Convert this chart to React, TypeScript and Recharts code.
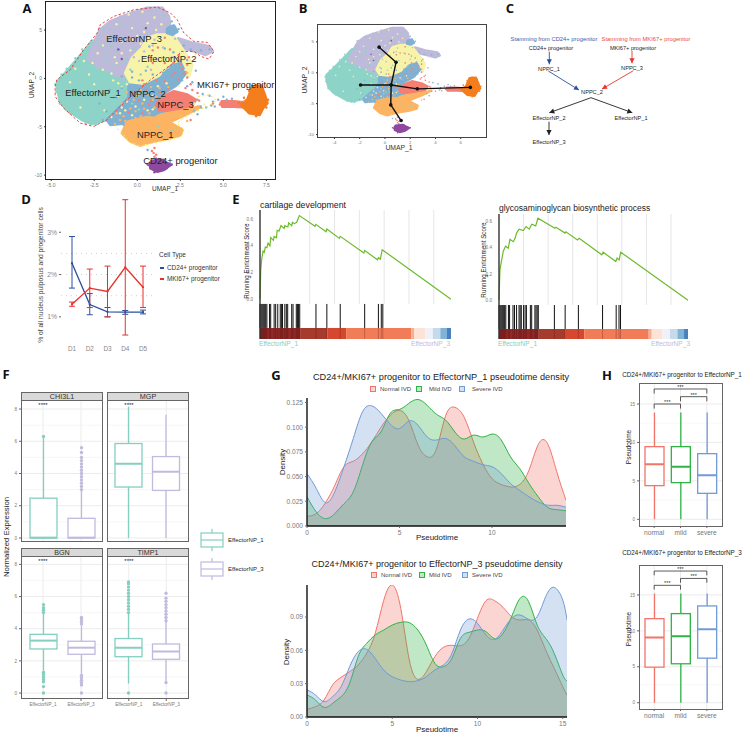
import React from "react";
import {
  ScatterChart, Scatter, XAxis, YAxis, ComposedChart, Line, LineChart, ErrorBar,
  AreaChart, Area, Bar, ReferenceLine, ReferenceArea,
} from "recharts";

// ---- UMAP clusters, outlines (x, y in UMAP units)
const teal = "#8dd3c7", lavender = "#bebada", yellow = "#f7f3a8", nppc2 = "#80b1d3";
const salmon = "#f47f72", peach = "#fdb462", orange = "#f47d1c", purple = "#8e4a9e";

const effector1 = [[-4.67,-.83],[-4.63,-.31],[-4.18,.55],[-3.6,1.76],[-3.02,2.97],[-2.63,3.83],[-2.15,4],[-1.56,2.97],[-.3,1.5],[-.1,-.5],[-.2,-2.2],[-.9,-3.6],[-1.76,-4.28],[-2.63,-4.69],[-3.21,-4.28],[-4.09,-3.24],[-4.48,-2.38]];
const effector3 = [[-2.88,1.93],[-2.53,3.66],[-2.15,5.03],[-1.56,5.9],[-.59,6.59],[.57,7.28],[1.45,7.28],[1.83,6.41],[1.93,5.03],[1.5,3.5],[.9,1.5],[-.2,.5],[-.9,.1],[-1.95,1.07],[-2.53,1.59]];
const effector3Tail = [[2.32,4.17],[3.2,3.66],[4.16,3.31],[4.36,2.79],[3.97,2.45],[3.39,2.79],[2.61,3.14]];
const effector2 = [[.57,4.17],[1.16,4.52],[2.03,4.52],[2.32,3.83],[2.9,2.28],[3.19,1.41],[3,.2],[2.13,1.07],[1.4,-.4],[.57,-1.1],[-.2,-1.1],[-.69,.55],[-.3,2.1],[.28,3.14]];
const nppc2Main = [[-.5,-.66],[.38,-.83],[1.35,.03],[1.93,1.24],[2.52,1.59],[2.81,.55],[2.32,-.66],[1.54,-1.52],[1.5,-2.55],[1.6,-3.76],[.57,-4.6],[-.59,-4.6],[-1.56,-4.79],[-1.75,-4.28],[-1.17,-3.24],[-.5,-2]];
const nppc2Small = [[1.74,5.2],[2.13,5.45],[2.32,4.86],[2.03,4.52],[1.74,4.7]];
const nppc3Main = [[1.54,-1.86],[2.13,-1.34],[2.9,-1.69],[3.39,-2.2],[3.1,-3.07],[2.13,-3.41],[1.25,-3.24],[1.16,-2.55]];
const nppc3Tail = [[4.85,-2.38],[5.62,-2.38],[6.4,-2.55],[6.3,-2.97],[5.62,-2.9],[4.94,-2.9]];
const nppc1Main = [[-.59,-4.5],[.57,-4],[1.74,-4.4],[2.61,-5.31],[2.52,-5.83],[1.93,-6.17],[.86,-6.52],[.18,-6.93],[-.4,-6.52],[-.88,-5.66]];
const nppc1Arm = [[1.35,-3.76],[2.4,-3.41],[3.68,-2.9],[3,-3.6],[1.74,-4.62],[.9,-4.2]];
const mki67Blob = [[6.4,-2.2],[6.69,-.83],[7.2,-.76],[7.4,-1.69],[7.55,-2.55],[7.3,-3.07],[7.1,-3.76],[6.52,-3.59],[6.03,-2.72]];
const cd24Blob = [[.77,-8.59],[1.35,-8.41],[1.93,-8.93],[1.54,-9.45],[1.16,-9.62],[.77,-9.28]];

const blobs: [number[][], string][] = [
  [effector1, teal], [effector3, lavender], [effector3Tail, lavender], [effector2, yellow],
  [nppc2Main, nppc2], [nppc2Small, nppc2], [nppc3Main, salmon], [nppc3Tail, salmon],
  [nppc1Main, peach], [nppc1Arm, peach], [mki67Blob, orange], [cd24Blob, purple],
];

const yellowSpecks = [[-.5,6.6],[.3,6.9],[1,6.3],[-1.2,5.6],[-.3,5.2],[.6,5.7],[1.4,5.6],[-1.7,4.3],[-.9,3.8],[0,4.4],[.2,3.6],[-.4,2.9],[-1.3,2.2],[-2.3,2.6],[-3.1,1.8],[-3.6,1],[-2.8,.4],[-2,.9],[-3.9,-.4],[-2.5,-.6],[-1.4,-.2],[-1.1,-1.8],[-3.3,-3],[-1.9,-3.3],[-.9,-3],[-.3,-3.8],[.4,-2.2],[.9,-3.2],[1.7,-.5],[2.4,-.8],[2.8,.9],[3.4,2.5],[3.3,-2.6],[3.9,-2.7],[.5,-6.9],[-.6,-2.4],[-.1,-2.9],[.6,-3.3],[-1,-3.6],[-1.5,-4],[-.7,-3.3],[0,-1.8],[.9,-1.8],[1.2,-.8],[-.9,-.9],[-1.1,-.5],[-1.5,.5],[-1.2,1.6],[-.9,2.6],[-.3,4],[.4,4.8],[1.1,5],[-2,3.4],[-2.6,1.6],[-.6,-.6]];
const tealSpecks = [[-.6,2],[-1.5,3.3],[-.2,3.1],[.6,1.2],[.2,.4],[1.1,2],[.8,-1.3],[.1,-3.2],[.6,-4],[-.3,-2.6],[1.5,6.5],[-.9,5.6],[-2,5.1],[2.5,1.8],[1.8,1.1],[.4,5.2],[1.2,-5],[2,-5.4],[-2.4,3.9],[-2.1,3.3],[-1.8,2.5],[-2.2,4.4],[-1.5,3.9],[-1.2,2.9],[-1.8,1.8],[-1.3,1.4],[-.7,1.6],[-.4,.9],[-3.2,3],[-3.6,2.1],[-4.1,1],[-4.4,.4],[-4.75,-.6],[-4.7,-1.4],[-4.5,-2.6],[-3.9,-3.6],[-3,-4.6],[-2.4,-4.8]];
const blueSpecks = [[.7,3.3],[1.6,3.1],[2.1,2.7],[2.7,3.4],[3.1,3],[3.7,2.9],[4.2,3],[2.9,1.9],[3.4,.8],[-.9,.2],[-1.6,-1.2],[-2.2,-2.6],[-1.4,-4.4],[-.8,-4.8],[3.5,-2.2],[3.8,-1.6],[4.2,-1.8],[4.4,-2.4],[4.7,-2.2],[5,-1.9],[3.7,-3],[3.3,-3.4],[.6,-7.4],[2.6,-.2],[-.3,.1],[.1,-.2],[.9,.4],[1.5,.6],[2,.9],[2.4,.3],[2.1,-.6],[-.9,-1],[-1.2,-2],[-1.8,-3.4],[-2,-4.3],[-.3,.7],[.5,.8],[3.2,-.4],[2.9,-.8],[3.5,-3.7],[4,-3],[4.3,-2.8],[4.5,-2.9],[5.2,-2.2],[5.5,-2.1],[2,5.9],[2.4,5.1]];
const salmonSpecks = [[1.6,4.2],[.9,2.9],[1.6,1.6],[2.5,1.5],[2.9,.1],[2.4,-.1],[3.1,-.6],[2,.3],[1.1,-.2],[.4,-.6],[.1,-2.3],[.7,-2.7],[3.6,-2.3],[4.4,-2.6],[4.8,-2.7],[1,-7.2],[.95,-7.7],[1,-8.1],[.85,-7.5],[1.1,-7.9],[6.2,-2.4],[3.1,-4.3],[-.3,-1.5],[.5,-1.2],[1.3,-1.4],[.8,-2.3],[.3,-3.6],[-.5,-3.5],[1.1,-2.8],[1.6,-.3],[2.2,.6],[2.7,.5],[2.6,1],[2.1,1.6],[2.9,1.4],[3,2.2],[2.4,2.4],[1.9,3],[1.2,3.2],[.9,1.6],[.3,-.2],[3.2,-1.2],[3.5,-1.5],[2.8,-1],[1.8,-1.1]];
const peachSpecks = [[-.9,-2.6],[-.1,-3.4],[.4,-3.1],[.9,-2.2],[1.3,-1],[1.8,-.9],[-1.3,-4.7],[1.9,-3.7],[2.6,-3.8],[3.1,-3.3],[3.5,-2.9],[2.9,.6],[.1,-1.6],[2.9,-4.4],[-.3,-4.3],[-.8,-3.9],[-.4,-3.1],[.2,-3.9],[.7,-3.6],[1,-3],[.3,-2.6],[-.2,-2.2],[.6,-1.7],[1.1,-1.9],[-.6,-1.4],[.9,-4.1],[-.1,-4.1],[1.2,-4.1],[.5,-4.5],[1.5,-4.3],[-1,-4.3],[-1.2,-3.6],[-.7,-4.4],[.2,-1.2],[.8,-.9]];
const lavenderSpecks = [[-.8,-.2],[.1,1.8],[1,4],[1.5,3.2],[.8,.9],[2,2.2],[-1.1,1],[3.4,3.2],[-2.3,1.1],[-3,.9],[-2.2,5.2],[-1.7,5.7],[-1,6.4],[-.3,6.9],[.5,7.2],[1.2,7.35],[1.7,6.8],[1.85,5.8],[-2.7,2.8],[-2.4,1.1],[-1.3,.2],[-.2,2.2],[.4,2.8],[.9,3.4],[2.9,3.6],[3.6,3.5],[4.3,3.1],[2.2,4.1]];
const orangeSpecks = [[6.2,-2],[6.5,-1.3],[6.9,-.7],[7.3,-1.1],[7.6,-2.2],[7.5,-3],[6.9,-3.9],[6.3,-3.2],[5.9,-2.5]];
const purpleSpecks = [[-1.1,3],[-.9,2],[.5,5.2],[.6,-8.9],[1.1,-8.3],[.7,-9],[1,-9.7],[1.7,-9.3],[2,-8.9],[1.5,-8.4],[.9,-8.5]];

const specks: [number[][], string][] = [
  [yellowSpecks, yellow], [tealSpecks, teal], [blueSpecks, nppc2], [salmonSpecks, salmon],
  [peachSpecks, peach], [lavenderSpecks, lavender], [orangeSpecks, orange], [purpleSpecks, purple],
];

const redOutline = [[-4.77,-.83],[-4.67,-.14],[-3.89,.9],[-3.11,2.97],[-2.33,4.69],[-2.15,5.55],[-1.37,6.41],[-.2,7.1],[1.16,7.38],[1.93,6.76],[2.32,6.07],[2.71,4.69],[3.29,3.83],[4.07,3.72],[4.46,2.79],[4.17,2],[3.68,2.28],[3.29,2.79],[2.52,2.79],[2.22,1.76],[.77,-.14],[-.59,-2.2],[-1.76,-4.28],[-2.53,-4.97],[-3.31,-4.62],[-4.28,-3.07],[-4.77,-1.86],[-4.77,-.83]];
const yellowOutline = [[-1.17,-5.17],[-.83,-5.66],[-.49,-6.55],[.18,-6.97],[1.16,-6.62],[2.52,-6.07],[2.71,-5.31],[2.32,-4.62],[3,-3.7],[4.1,-2.9],[4.6,-2.3],[4.2,-1.7],[3.4,-1.9]];

const clusterNames = ["EffectorNP_3","EffectorNP_2","EffectorNP_1","NPPC_2","NPPC_3","NPPC_1","CD24+ progenitor","MKI67+ progenitor"];
const clusterX = [-.18,1.83,-2.57,.59,2.22,1.04,2.51,5.72];
const clusterY = [4.17,2.07,-1.45,-1.59,-2.72,-5.83,-8.45,-.62];

const trajectoryTrunk = [[-.46,4.15],[.88,1.7],[.49,-1.98],[.46,-5.2],[1.28,-7.74]];
const trajectoryCross = [[-1.93,-1.98],[.49,-1.98],[2.56,-2.6],[6.76,-2.37]];

// ---- panel C flow diagram, in diagram units
const flowNames = ["NPPC_1","NPPC_3","NPPC_2","EffectorNP_2","EffectorNP_1","EffectorNP_3","CD24+ progenitor","MKI67+ progenitor"];
const flowX = [549,632,592,549,631,549,551,633];
const flowY = [69,68,92,117.5,118,141.7,48,48];
const flowEdges: [number[], number[], string][] = [
  [[549.3,51.7],[549.3,64.3],"#2a4f9e"], [[632,51],[632,63.3],"#e8362c"],
  [[548.3,71],[579,90],"#2a4f9e"], [[633.3,70.7],[602,89],"#e8362c"],
  [[591,97.7],[549.3,112.7],"#222"], [[591,97.7],[632.3,112.7],"#222"], [[549,121.7],[549,135],"#222"],
];

// ---- panel D
const days = ["D1","D2","D3","D4","D5"];
const cd24Mean = [2.27,1.29,1.12,1.11,1.11];
const cd24Low = [1.68,1.05,1.0,1.06,1.07];
const cd24High = [2.9,1.55,1.22,1.15,1.16];
const mkiMean = [1.3,1.68,1.6,2.17,1.7];
const mkiLow = [1.25,1.22,1.0,.57,1.22];
const mkiHigh = [1.35,2.13,2.2,3.77,2.2];
const dayRows = days.map((d, i) => ({
  day: d, cd24: cd24Mean[i], cd24Err: [cd24Mean[i] - cd24Low[i], cd24High[i] - cd24Mean[i]],
  mki: mkiMean[i], mkiErr: [mkiMean[i] - mkiLow[i], mkiHigh[i] - mkiMean[i]],
}));

// ---- panel E
const gseaLeftX = [0,.4,1,1.6,2.2,2.8,3.6,4.2,5.2,5.6,7,7.4,8.6,9,10,11,12.6,13,14.6,15,16.6,17,18,19.2,20.6,28.8,29.2,34.6,35,41.6,42,54.4,54.8,61.5,62,63,64,100];
const gseaLeftY = [0,.22,.31,.36,.35,.39,.385,.42,.4,.46,.44,.47,.46,.515,.51,.55,.53,.55,.54,.57,.55,.575,.565,.575,.625,.545,.56,.505,.525,.455,.47,.345,.365,.295,.31,.3,.37,0];
const gseaRightX = [0,.5,1.4,2.3,3.5,4.9,5.8,7.6,8.5,9.3,10.6,12.9,14.3,16,17.3,19.4,20.6,29.6,30.1,35,35.4,41.5,42.4,54.4,55.1,61.8,62.5,63.6,64.4,100];
const gseaRightY = [0,.23,.306,.375,.41,.395,.463,.445,.47,.51,.54,.53,.56,.54,.577,.565,.623,.547,.555,.51,.52,.458,.47,.345,.365,.294,.32,.306,.365,0];
const gseaHits = [0,.5,1,1.5,2,2.5,3,3.6,5,5.6,7.4,8.2,9.3,10.6,11.2,11.8,13,13.8,14.5,16.6,17.3,19,19.6,20.2,20.8,29.3,35,42,54.8,62,63.5,64.3];
const gseaBreaksLeft = [26,39,52,65,78,91];
const gseaBreaksRight = [13,26,39,52,65,78,91];
const stripStart = [0,21,35.3,45.1,79.2,80.8,86.5,90.5,94.4,97.9];
const stripEnd = [21,35.3,45.1,79.2,80.8,86.5,90.5,94.4,97.9,100];
const stripColor = ["#8f2a28","#a63b2d","#d5482f","#f07c58","#f8ad90","#fde2d6","#eef1f9","#c5dbea","#81b3d8","#4a80bb"];

// ---- panel F + H box statistics
type Box = { name: string; lo: number; q1: number; med: number; q3: number; hi: number; out: number[]; range: number[] };
const makeBoxes = (names: string[], lo: number[], q1: number[], med: number[], q3: number[], hi: number[], out: number[][]): Box[] =>
  names.map((name, i) => ({
    name, lo: lo[i], q1: q1[i], med: med[i], q3: q3[i], hi: hi[i], out: out[i],
    range: [Math.min(lo[i], ...out[i]), Math.max(hi[i], ...out[i])],
  }));

const npNames = ["EffectorNP_1","EffectorNP_3"];
const npColors = ["#84cfbf","#c0bade"];
const chi3l1 = makeBoxes(npNames, [0,0], [0,0], [.02,.02], [2.47,1.22], [6.2,3], [[6.3],[3,3.2,3.4,3.6,3.8,4,4.2,4.4,4.6,4.8,5,5.3,5.6]]);
const mgp = makeBoxes(npNames, [0,0], [3.16,2.95], [4.6,4.11], [5.86,5.05], [8.14,7.64], [[],[]]);
const bgn = makeBoxes(npNames, [1.4,1.2], [2.74,2.41], [3.26,2.82], [3.65,3.22], [5,4.2],
  [[0,.4,.7,.85,1,1.15,1.3,5,5.15,5.3,5.5],[0,.5,.65,.8,.95,1.1,4.3,4.45,4.6,4.7]]);
const timp1 = makeBoxes(npNames, [.6,.7], [2.26,2.1], [2.82,2.58], [3.39,3.05], [5,4.5],
  [[0,5,5.2,5.4,5.6,5.8,6,6.2,6.4,6.6,6.8,6.9],[0,.65,4.5,4.7,4.9,5.1,5.3,5.5,5.7,5.9,6.2]]);

const severityNames = ["normal","mild","severe"];
const severityColors = ["#f2756b","#2fb344","#719ad8"];
const pseudoOne = makeBoxes(severityNames, [0,0,0], [4.38,4.77,3.38], [7.15,6.85,5.72], [9.45,9.45,8.54], [13.9,13.9,13.9], [[],[],[]]);
const pseudoThree = makeBoxes(severityNames, [0,0,0], [4.95,5.42,6.2], [9.07,9.26,10.23], [11.7,12.4,13.47], [15.2,15.2,15.2], [[],[],[]]);
const bracketsOne: [string, string, number][] = [["normal","mild",15],["mild","severe",15.95],["normal","severe",16.95]];
const bracketsThree: [string, string, number][] = [["normal","mild",16.34],["mild","severe",17.3],["normal","severe",18.33]];

// ---- panel G densities
const timeTop = [0,.5,1,1.5,2,2.5,3,3.5,4,4.5,5,5.5,6,6.5,7,7.5,8,8.5,9,9.5,10,10.5,11,11.5,12,12.5,13,13.5,14];
const normalTop = [.0098,.0125,.0236,.041,.06,.0655,.073,.085,.1,.112,.117,.107,.082,.07,.078,.112,.12,.11,.085,.063,.048,.042,.0395,.042,.0565,.0825,.0835,.055,.026];
const mildTop = [.0295,.0142,.0074,.0125,.0226,.0345,.0615,.085,.0953,.114,.118,.124,.128,.122,.113,.107,.095,.088,.092,.09,.093,.087,.07,.058,.043,.0295,.019,.0165,.0155];
const severeTop = [.053,.038,.0236,.0345,.06,.0885,.1155,.1216,.114,.103,.0986,.106,.102,.09,.087,.0885,.081,.07,.0655,.062,.06,.053,.043,.036,.0295,.0243,.021,.021,.019];
const timeBottom = [0,.5,1,1.5,2,2.5,3,3.5,4,4.5,5,5.5,6,6.5,7,7.5,8,8.5,9,9.5,10,10.5,11,11.5,12,12.5,13,13.5,14,14.5,15,15.25];
const normalBottom = [.0069,.0093,.0153,.0288,.0357,.0408,.0468,.0573,.0753,.105,.1188,.0978,.0513,.0339,.0408,.0543,.0627,.0645,.0642,.0708,.0888,.1047,.1047,.0987,.0903,.0873,.0873,.0783,.0603,.0438,.0273,.0195];
const mildBottom = [.0198,.0153,.0087,.0123,.0183,.0303,.0543,.0663,.0738,.0783,.0828,.0852,.0849,.0783,.0648,.0483,.0453,.0528,.0708,.0762,.0783,.0768,.0705,.0753,.0903,.1068,.1038,.0828,.0708,.0573,.0378,.0327];
const severeBottom = [.0243,.0198,.0138,.0183,.0273,.0453,.0588,.0609,.0528,.0423,.0363,.0333,.0318,.0327,.0363,.0423,.0468,.0573,.0783,.0882,.0843,.0738,.0699,.0783,.0888,.0918,.0879,.0903,.1083,.1167,.1053,.0873];
const ivdNames = ["Normal IVD","Mild IVD","Severe IVD"];

// ---- helpers
const pts = (a: number[][]) => a.map(([x, y]) => ({ x, y }));
const noMark = () => <g />;
const GRAY = "#777";

function T({ x, y, size = 7, color = "#222", rotate = 0, anchor = "center", weight = 400, font, children }: any) {
  const tx = anchor === "center" ? "-50%" : anchor === "end" ? "-100%" : "0";
  return (
    <div style={{
      position: "absolute", left: x, top: y, fontSize: size, color, fontWeight: weight, whiteSpace: "nowrap",
      lineHeight: 1, fontFamily: font, transform: `translate(${tx},-50%) rotate(${rotate}deg)`,
    }}>{children}</div>
  );
}

function Frame({ x, y, w, h, color = "#555", width = 1 }: any) {
  return <div style={{ position: "absolute", left: x, top: y, width: w, height: h, border: `${width}px solid ${color}`, boxSizing: "border-box", pointerEvents: "none" }} />;
}

function Place({ x, y, children }: any) {
  return <div style={{ position: "absolute", left: x, top: y }}>{children}</div>;
}

function Umap({ w, h, yWidth, xHeight, top, dotR, grow, xTicks, fmt, fontSize, children }: any) {
  const dot = (color: string) => (p: any) => <circle cx={p.cx} cy={p.cy} r={dotR} fill={color} />;
  return (
    <ScatterChart width={w} height={h} margin={{ top, right: 0, bottom: 0, left: 0 }}>
      <XAxis type="number" dataKey="x" domain={[-5.3, 8]} ticks={xTicks} tickFormatter={fmt} allowDataOverflow height={xHeight}
        axisLine={false} tickSize={2} tickLine={{ stroke: "#333" }} tick={{ fontSize, fill: GRAY }} />
      <YAxis type="number" dataKey="y" domain={[-10.4, 7.9]} ticks={[-10, -5, 0, 5]} allowDataOverflow width={yWidth}
        axisLine={false} tickSize={2} tickLine={{ stroke: "#333" }} tick={{ fontSize, fill: GRAY }} />
      {blobs.map(([poly, color], i) => (
        <Scatter key={"b" + i} data={pts([...poly, poly[0]])} shape={noMark} isAnimationActive={false}
          line={{ fill: color, stroke: color, strokeWidth: grow, strokeLinejoin: "round" }} />
      ))}
      {specks.map(([list, color], i) => (
        <Scatter key={"s" + i} data={pts(list)} shape={dot(color)} isAnimationActive={false} />
      ))}
      {children}
    </ScatterChart>
  );
}

function FlowDiagram() {
  const label = (p: any) => (
    <text x={p.cx} y={p.cy} textAnchor="middle" dominantBaseline="central" fontSize={5.6} fill="#222">{p.payload.name}</text>
  );
  const arrowHead = (color: string, angle: number) => (p: any) =>
    p.payload.tip ? <polygon points="0,0 -5,-2.6 -5,2.6" fill={color} transform={`translate(${p.cx},${p.cy}) rotate(${angle})`} /> : <g />;
  return (
    <ScatterChart width={240} height={130} margin={{ top: 0, right: 0, bottom: 0, left: 0 }}>
      <XAxis type="number" dataKey="x" domain={[500, 740]} hide />
      <YAxis type="number" dataKey="y" domain={[25, 155]} reversed hide />
      {flowEdges.map(([a, b, color], i) => {
        const angle = (Math.atan2(b[1] - a[1], b[0] - a[0]) * 180) / Math.PI;
        return (
          <Scatter key={i} data={[{ x: a[0], y: a[1] }, { x: b[0], y: b[1], tip: true }]} shape={arrowHead(color, angle)}
            line={{ stroke: color, strokeWidth: 0.9 }} isAnimationActive={false} />
        );
      })}
      <Scatter data={flowNames.map((name, i) => ({ name, x: flowX[i], y: flowY[i] }))} shape={label} isAnimationActive={false} />
    </ScatterChart>
  );
}

function Gsea({ xs, ys, w, h, domain, rugTop, rugBottom, breaks }: any) {
  const rows = xs.map((x: number, i: number) => ({ x, y: ys[i] }));
  return (
    <ComposedChart width={w} height={h} data={rows} margin={{ top: 0, right: 0, bottom: 0, left: 0 }}>
      <XAxis type="number" dataKey="x" domain={[0, 100]} hide />
      <YAxis type="number" domain={domain} ticks={[0, .2, .4, .6]} tickFormatter={(v: number) => v.toFixed(1)} allowDataOverflow width={16}
        axisLine={{ stroke: "#333", strokeWidth: 1.4 }} tickLine={false} tickMargin={1} tick={{ fontSize: 4.6, fill: GRAY }} />
      {breaks.map((b: number) => (
        <ReferenceLine key={b} segment={[{ x: b, y: rugTop }, { x: b, y: domain[1] }]} stroke="#e6e6e6" strokeWidth={1} />
      ))}
      {stripColor.map((c, i) => (
        <ReferenceArea key={c} x1={stripStart[i]} x2={stripEnd[i]} y1={domain[0]} y2={rugBottom} fill={c} fillOpacity={1} stroke="none" />
      ))}
      {gseaHits.map((b) => (
        <ReferenceLine key={b} segment={[{ x: b, y: rugBottom }, { x: b, y: rugTop }]} stroke="#111" strokeWidth={1} />
      ))}
      {gseaHits.map((b) => (
        <ReferenceLine key={"s" + b} segment={[{ x: b, y: domain[0] }, { x: b, y: rugBottom }]} stroke="#400" strokeOpacity={0.25} strokeWidth={1} />
      ))}
      <Line type="linear" dataKey="y" stroke="#6dbb2c" strokeWidth={1.2} dot={false} isAnimationActive={false} />
    </ComposedChart>
  );
}

function boxShape(names: string[], colors: string[], outlierR: number, lineW: number, medW: number) {
  return (p: any) => {
    const { x, y, width, height, payload } = p;
    const color = colors[names.indexOf(payload.name)];
    const [rLo, rHi] = payload.range;
    const top = Math.min(y, y + height);
    const span = Math.abs(height);
    const py = (v: number) => top + ((rHi - v) / (rHi - rLo)) * span;
    const cx = x + width / 2;
    return (
      <g>
        <line x1={cx} x2={cx} y1={py(payload.hi)} y2={py(payload.lo)} stroke={color} strokeWidth={lineW} />
        <rect x={x} y={py(payload.q3)} width={width} height={py(payload.q1) - py(payload.q3)} fill="#fff" stroke={color} strokeWidth={lineW} />
        <line x1={x} x2={x + width} y1={py(payload.med)} y2={py(payload.med)} stroke={color} strokeWidth={medW} />
        {payload.out.map((v: number, i: number) => <circle key={i} cx={cx} cy={py(v)} r={outlierR} fill={color} />)}
      </g>
    );
  };
}

const exprMajor = [0, 2, 4, 6, 8];
const exprMinor = [1, 3, 5, 7];

function Facet({ data, domain, w, h, yWidth, xHeight }: any) {
  return (
    <ComposedChart width={w} height={h} data={data} margin={{ top: 0, right: 0, bottom: 0, left: 0 }} barCategoryGap={0}>
      <XAxis dataKey="name" type="category" padding={{ left: 3, right: 3 }} hide={!xHeight} height={xHeight || 0}
        axisLine={false} tickSize={2} tick={{ fontSize: 4.6, fill: GRAY }} interval={0} />
      <YAxis type="number" domain={domain} ticks={exprMajor} allowDataOverflow hide={!yWidth} width={yWidth || 0}
        axisLine={false} tickSize={2} tick={{ fontSize: 4.6, fill: GRAY }} />
      {exprMinor.map((v) => <ReferenceLine key={v} y={v} stroke="#f2f2f2" strokeWidth={0.7} zIndex={-100} />)}
      {exprMajor.map((v) => <ReferenceLine key={v} y={v} stroke="#ececec" strokeWidth={1} zIndex={-100} />)}
      {npNames.map((n) => <ReferenceLine key={n} x={n} stroke="#ececec" strokeWidth={1} zIndex={-100} />)}
      <Bar dataKey="range" barSize={27} shape={boxShape(npNames, npColors, 1.7, 1.3, 2)} isAnimationActive={false} />
    </ComposedChart>
  );
}

function Pseudo({ data, domain, h, brackets, tip }: any) {
  return (
    <ComposedChart width={100} height={h} data={data} margin={{ top: 0, right: 0, bottom: 0, left: 0 }}>
      <XAxis dataKey="name" type="category" padding={{ left: 2, right: 2 }} height={14} axisLine={false} tickSize={2}
        tick={{ fontSize: 6.6, fill: GRAY }} interval={0} />
      <YAxis type="number" domain={domain} ticks={[0, 5, 10, 15]} allowDataOverflow width={17} axisLine={false} tickSize={2}
        tick={{ fontSize: 4.6, fill: GRAY }} />
      {[2.5, 7.5, 12.5].map((v) => <ReferenceLine key={v} y={v} stroke="#f3f3f3" strokeWidth={0.7} zIndex={-100} />)}
      {[0, 5, 10, 15].map((v) => <ReferenceLine key={v} y={v} stroke="#ebebeb" strokeWidth={1} zIndex={-100} />)}
      {severityNames.map((n) => <ReferenceLine key={n} x={n} stroke="#ebebeb" strokeWidth={1} zIndex={-100} />)}
      <Bar dataKey="range" barSize={19} shape={boxShape(severityNames, severityColors, 1, 1.3, 2)} isAnimationActive={false} />
      {brackets.map(([a, b, y]: [string, string, number]) => (
        <React.Fragment key={a + b}>
          <ReferenceLine segment={[{ x: a, y }, { x: b, y }]} stroke="#333" strokeWidth={0.8}
            label={{ value: "***", position: "top", fontSize: 5.5, fill: "#333", offset: 0 }} />
          <ReferenceLine segment={[{ x: a, y }, { x: a, y: y - tip }]} stroke="#333" strokeWidth={0.8} />
          <ReferenceLine segment={[{ x: b, y }, { x: b, y: y - tip }]} stroke="#333" strokeWidth={0.8} />
        </React.Fragment>
      ))}
    </ComposedChart>
  );
}

function Density({ xs, a, b, c, w, h, xMax, yMax, xTicks, yTicks, yFmt }: any) {
  const rows = xs.map((x: number, i: number) => ({ x, normal: a[i], mild: b[i], severe: c[i] }));
  const axisLine = { stroke: "#111", strokeWidth: 1.4 };
  return (
    <AreaChart width={w} height={h} data={rows} margin={{ top: 0, right: 0, bottom: 0, left: 0 }}>
      <XAxis type="number" dataKey="x" domain={[0, xMax]} ticks={xTicks} allowDataOverflow height={15} axisLine={axisLine}
        tickSize={2} tick={{ fontSize: 6.6, fill: GRAY }} />
      <YAxis type="number" domain={[0, yMax]} ticks={yTicks} tickFormatter={yFmt} allowDataOverflow width={30} axisLine={axisLine}
        tickSize={2} tick={{ fontSize: 6.6, fill: GRAY }} />
      {["normal", "mild", "severe"].map((k, i) => (
        <Area key={k} type="natural" dataKey={k} stroke={severityColors[i]} strokeWidth={1} fill={severityColors[i]} fillOpacity={0.3}
          dot={false} isAnimationActive={false} />
      ))}
    </AreaChart>
  );
}

function IvdLegend({ y, sx, tx }: any) {
  return (
    <>
      {ivdNames.map((n, i) => (
        <React.Fragment key={n}>
          <div style={{
            position: "absolute", left: sx[i] - 3, top: y - 3, width: 6, height: 6, boxSizing: "border-box",
            border: `1px solid ${severityColors[i]}`, background: severityColors[i] + "4d",
          }} />
          <T x={tx[i]} y={y} size={6} anchor="left" color="#444">{n}</T>
        </React.Fragment>
      ))}
    </>
  );
}

function KeyBox({ x, y, color }: any) {
  return (
    <svg style={{ position: "absolute", left: x, top: y }} width={24} height={22}>
      <line x1={12} x2={12} y1={0} y2={22} stroke={color} strokeWidth={1.2} />
      <rect x={1} y={4} width={22} height={14} fill="#fff" stroke={color} strokeWidth={1.2} />
      <line x1={1} x2={23} y1={11} y2={11} stroke={color} strokeWidth={1.2} />
    </svg>
  );
}

const letterFont = "'Open Sans'";

export default function App() {
  return (
    <div style={{ position: "absolute", left: 0, top: 0, width: 747, height: 734, background: "#fff", overflow: "hidden", fontFamily: "'Liberation Sans'" }}>
      {/* A */}
      <Place x={14} y={0}>
        <Umap w={261} h={197} yWidth={32} xHeight={18} top={2} dotR={1.2} grow={3} xTicks={[-5, -2.5, 0, 2.5, 5, 7.5]} fmt={(v: number) => v.toFixed(1)} fontSize={5}>
          <Scatter data={pts(redOutline)} shape={noMark} isAnimationActive={false} line={{ stroke: "#e8352b", strokeWidth: 0.9, strokeDasharray: "2.5 2", fill: "none" }} />
          <Scatter data={pts(yellowOutline)} shape={noMark} isAnimationActive={false} line={{ stroke: "#efe64a", strokeWidth: 0.9, strokeDasharray: "2.5 2", fill: "none" }} />
          <Scatter
            data={clusterNames.map((name, i) => ({ name, x: clusterX[i], y: clusterY[i] }))}
            isAnimationActive={false}
            shape={(p: any) => <text x={p.cx} y={p.cy} textAnchor="middle" dominantBaseline="central" fontSize={9.4} fill="#222">{p.payload.name}</text>}
          />
        </Umap>
      </Place>
      <Frame x={45} y={1} w={231} h={179} color="#222" width={1.5} />
      <T x={165} y={189} size={6.5} color="#333">UMAP_1</T>
      <T x={32} y={85} size={6.5} rotate={-90} color="#333">UMAP_2</T>

      {/* B */}
      <Place x={298} y={22}>
        <Umap w={188} h={129} yWidth={20} xHeight={14} top={2} dotR={0.8} grow={2} xTicks={[-4, -2, 0, 2, 4, 6]} fontSize={4.4}>
          <Scatter data={pts(trajectoryTrunk)} isAnimationActive={false} line={{ stroke: "#111", strokeWidth: 1.4 }}
            shape={(p: any) => <circle cx={p.cx} cy={p.cy} r={1.8} fill="#111" />} />
          <Scatter data={pts(trajectoryCross)} isAnimationActive={false} line={{ stroke: "#111", strokeWidth: 1.4 }}
            shape={(p: any) => <circle cx={p.cx} cy={p.cy} r={1.8} fill="#111" />} />
        </Umap>
      </Place>
      <Frame x={317} y={24} w={170} h={114} color="#444" width={1.5} />
      <T x={399} y={148} size={6.8} color="#333">UMAP_1</T>
      <T x={305} y={80} size={6.8} rotate={-90} color="#333">UMAP_2</T>

      {/* C */}
      <Place x={500} y={25}><FlowDiagram /></Place>
      <T x={554} y={40} size={5.8} color="#3d5aa8">Stamming from CD24+ progenitor</T>
      <T x={646} y={40} size={5.8} color="#ea4a3c">Stamming from MKI67+ progenitor</T>

      {/* D */}
      <Place x={36} y={198}>
        <LineChart width={118} height={156} data={dayRows} margin={{ top: 0, right: 0, bottom: 0, left: 0 }}>
          <XAxis dataKey="day" padding={{ left: 11, right: 11 }} height={16} axisLine={false} tickLine={false} tick={{ fontSize: 6.4, fill: "#888" }} interval={0} />
          <YAxis type="number" domain={[.5, 3.81]} ticks={[1, 2, 3]} tickFormatter={(v: number) => v + "%"} allowDataOverflow width={25}
            axisLine={false} tickSize={2} tick={{ fontSize: 6.8, fill: "#888" }} />
          {[1.5, 2, 2.5].map((v) => <ReferenceLine key={v} y={v} stroke="#cfcfcf" strokeWidth={1} strokeDasharray="1 4" />)}
          <Line dataKey="cd24" type="linear" stroke="#2a4f9e" strokeWidth={1.3} dot={{ r: 1.1, fill: "#2a4f9e", stroke: "none" }} isAnimationActive={false}>
            <ErrorBar dataKey="cd24Err" width={3} strokeWidth={1} stroke="#2a4f9e" direction="y" isAnimationActive={false} />
          </Line>
          <Line dataKey="mki" type="linear" stroke="#e8302a" strokeWidth={1.3} dot={{ r: 1.1, fill: "#e8302a", stroke: "none" }} isAnimationActive={false}>
            <ErrorBar dataKey="mkiErr" width={3} strokeWidth={1} stroke="#e8302a" direction="y" isAnimationActive={false} />
          </Line>
        </LineChart>
      </Place>
      <T x={41} y={275} size={6.7} rotate={-90} color="#444">% of all nucleus pulposus and progenitor cells</T>
      <T x={159} y={255} size={6.5} anchor="left" color="#333">Cell Type</T>
      <div style={{ position: "absolute", left: 160, top: 267, width: 4, height: 1.5, background: "#2a4f9e" }} />
      <T x={167} y={267.7} size={6.4} anchor="left" color="#333">CD24+ progenitor</T>
      <div style={{ position: "absolute", left: 160, top: 278, width: 4, height: 1.5, background: "#e8302a" }} />
      <T x={167} y={278.5} size={6.4} anchor="left" color="#333">MKI67+ progenitor</T>

      {/* E */}
      <Place x={244} y={210}>
        <Gsea xs={gseaLeftX} ys={gseaLeftY} w={207} h={129} domain={[-.297, .667]} rugTop={-.035} rugBottom={-.2145} breaks={gseaBreaksLeft} />
      </Place>
      <Place x={483} y={214}>
        <Gsea xs={gseaRightX} ys={gseaRightY} w={205} h={125} domain={[-.294, .655]} rugTop={-.036} rugBottom={-.218} breaks={gseaBreaksRight} />
      </Place>
      <T x={260} y={204.5} size={8.8} anchor="left">cartilage development</T>
      <T x={499} y={207.5} size={8.5} anchor="left">glycosaminoglycan biosynthetic process</T>
      <T x={247} y={261} size={6.3} rotate={-90}>Running Enrichment Score</T>
      <T x={484} y={260} size={6.3} rotate={-90}>Running Enrichment Score</T>
      <T x={259} y={344} size={6.6} anchor="left" color={npColors[0]}>EffectorNP_1</T>
      <T x={411} y={344} size={6.6} anchor="left" color={npColors[1]}>EffectorNP_3</T>
      <T x={498} y={344} size={6.6} anchor="left" color={npColors[0]}>EffectorNP_1</T>
      <T x={651} y={344} size={6.6} anchor="left" color={npColors[1]}>EffectorNP_3</T>

      {/* F */}
      <Place x={6} y={400}><Facet data={chi3l1} domain={[-.25, 8.56]} w={97} h={142} yWidth={15} /></Place>
      <Place x={107} y={400}><Facet data={mgp} domain={[-.25, 8.56]} w={81} h={142} /></Place>
      <Place x={6} y={556}><Facet data={bgn} domain={[-.37, 8.52]} w={97} h={155} yWidth={15} xHeight={12} /></Place>
      <Place x={107} y={556}><Facet data={timp1} domain={[-.37, 8.52]} w={81} h={155} xHeight={12} /></Place>
      {[[21, 392, "CHI3L1"], [107, 392, "MGP"], [21, 548, "BGN"], [107, 548, "TIMP1"]].map(([x, y, name]: any) => (
        <React.Fragment key={name}>
          <div style={{ position: "absolute", left: x, top: y, width: 82, height: 9, boxSizing: "border-box", background: "#d9d9d9", border: "1px solid #666" }} />
          <T x={x + 41} y={y + 4.5} size={7.2} color="#333">{name}</T>
          <Frame x={x} y={y + 8} w={82} h={y < 500 ? 142 : 143} color="#666" />
          <T x={x + 22} y={y + 12.5} size={6}>****</T>
        </React.Fragment>
      ))}
      <T x={7} y={537} size={7.8} rotate={-90}>Normalized Expression</T>
      <KeyBox x={200} y={528.5} color={npColors[0]} />
      <KeyBox x={200} y={557.5} color={npColors[1]} />
      <T x={228} y={539.5} size={6} anchor="left">EffectorNP_1</T>
      <T x={228} y={568.5} size={6} anchor="left">EffectorNP_3</T>

      {/* G */}
      <Place x={277} y={398}>
        <Density xs={timeTop} a={normalTop} b={mildTop} c={severeTop} w={289} h={143} xMax={14} yMax={.1295}
          xTicks={[0, 5, 10]} yTicks={[0, .025, .05, .075, .1, .125]} yFmt={(v: number) => v.toFixed(3)} />
      </Place>
      <Place x={277} y={585}>
        <Density xs={timeBottom} a={normalBottom} b={mildBottom} c={severeBottom} w={290} h={147} xMax={15.25} yMax={.1188}
          xTicks={[0, 5, 10, 15]} yTicks={[0, .03, .06, .09]} yFmt={(v: number) => v.toFixed(2)} />
      </Place>
      <T x={441} y={378} size={9.2}>CD24+/MKI67+ progenitor to EffectorNP_1 pseudotime density</T>
      <T x={437} y={564} size={9}>CD24+/MKI67+ progenitor to EffectorNP_3 pseudotime density</T>
      <IvdLegend y={388.5} sx={[373, 419, 462]} tx={[380, 429, 472]} />
      <IvdLegend y={575} sx={[374, 422, 465]} tx={[381, 429, 472]} />
      <T x={437} y={538} size={8}>Pseudotime</T>
      <T x={437} y={730} size={8}>Pseudotime</T>
      <T x={283} y={462} size={8} rotate={-90}>Density</T>
      <T x={287} y={652} size={8} rotate={-90}>Density</T>

      {/* H */}
      <Place x={622} y={383}>
        <Pseudo data={pseudoOne} domain={[-.87, 17.73]} h={157} brackets={bracketsOne} tip={0.6} />
      </Place>
      <Place x={622} y={565}>
        <Pseudo data={pseudoThree} domain={[-.875, 19.17]} h={158} brackets={bracketsThree} tip={0.6} />
      </Place>
      <Frame x={639} y={383} w={84} h={144} color="#666" />
      <Frame x={639} y={565} w={84} h={145} color="#666" />
      <T x={682} y={375} size={6.3}>CD24+/MKI67+ progenitor to EffectorNP_1</T>
      <T x={682} y={553} size={6.3}>CD24+/MKI67+ progenitor to EffectorNP_3</T>
      <T x={629} y={447} size={6.5} rotate={-90}>Pseudotime</T>
      <T x={629} y={629} size={6.5} rotate={-90}>Pseudotime</T>

      {/* panel letters */}
      {[[27, 8, "A"], [303, 8, "B"], [510, 8, "C"], [26, 199, "D"], [236, 199, "E"], [6, 374, "F"], [276, 375, "G"], [607, 375, "H"]].map(([x, y, l]: any) => (
        <T key={l} x={x} y={y} size={13} weight={700} color="#111" font={letterFont}>{l}</T>
      ))}
    </div>
  );
}
